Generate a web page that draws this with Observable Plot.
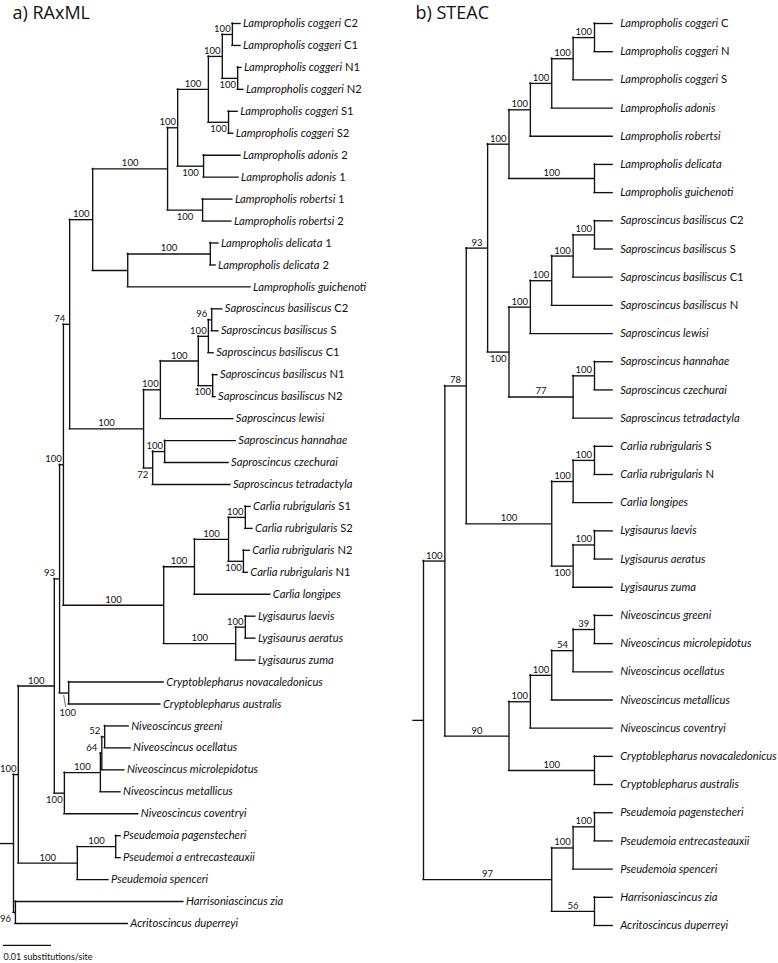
<!DOCTYPE html>
<html>
<head>
<meta charset="utf-8">
<script src="https://cdn.jsdelivr.net/npm/d3@7"></script>
<script src="https://cdn.jsdelivr.net/npm/@observablehq/plot@0.6"></script>
<style>
  html, body { margin: 0; padding: 0; background: #ffffff; }
  #wrap { display: flex; width: 778px; height: 963px; overflow: hidden; }
  #wrap svg { display: block; background: #ffffff; }
</style>
</head>
<body>
<div id="wrap"></div>
<script>
// ---------------- a) RAxML tree (depths in substitutions/site from the root) ----------------
const raxmlTitle = "a) RAxML";
const raxmlScaleLabel = "0.01 substitutions/site";
const raxmlScaleLength = 0.01;
const raxmlRootBranch = 0.0027;

// internal nodes: [id, parent, depth, bootstrap support, label side]
const raxmlNodes = [
  ["root", null, 0, null, ""],
  ["nA", "root", 0.0010, 100, "above"],
  ["nB", "nA", 0.0085, 100, "above"],
  ["n93", "nB", 0.0096, 93, "above"],
  ["nC", "n93", 0.0104, 100, "above"],
  ["n74", "nC", 0.0117, 74, "above"],
  ["nLam", "n74", 0.0165, 100, "above"],
  ["nLam1", "nLam", 0.0321, 100, "above"],
  ["nLam2", "nLam1", 0.0342, 100, "above"],
  ["nLam3", "nLam2", 0.0406, 100, "above"],
  ["nCN", "nLam3", 0.0435, 100, "above"],
  ["nC12", "nCN", 0.0456, 100, "above"],
  ["nN12", "nCN", 0.0467, 100, "below"],
  ["nS12", "nLam3", 0.0448, 100, "below"],
  ["nAdo", "nLam2", 0.0396, 100, "below"],
  ["nRob", "nLam1", 0.0394, 100, "below"],
  ["nDG", "nLam", 0.0238, null, ""],
  ["nDel", "nDG", 0.0410, 100, "above"],
  ["nSap", "n74", 0.0271, 100, "above"],
  ["nSap1", "nSap", 0.0306, 100, "above"],
  ["nBas", "nSap1", 0.0385, 100, "above"],
  ["nBas1", "nBas", 0.0406, 100, "above"],
  ["nBas2", "nBas1", 0.0413, 96, "above"],
  ["nBasN", "nBas", 0.0415, 100, "below"],
  ["n72", "nSap", 0.0290, 72, "below"],
  ["nHC", "n72", 0.0315, 100, "above"],
  ["nCL", "nC", 0.0313, 100, "above"],
  ["nCar", "nCL", 0.0377, 100, "above"],
  ["nCar2", "nCar", 0.0448, 100, "above"],
  ["nCarS", "nCar2", 0.0483, 100, "above"],
  ["nCarN", "nCar2", 0.0479, 100, "below"],
  ["nLyg", "nCL", 0.0463, 100, "above"],
  ["nLyg2", "nLyg", 0.0483, 100, "above"],
  ["nCry", "n93", 0.0115, 100, "leader"],
  ["nNiv", "nB", 0.0106, 100, "below"],
  ["nNiv2", "nNiv", 0.0181, 100, "above"],
  ["nNiv3", "nNiv2", 0.0184, 64, "above"],
  ["nNiv4", "nNiv3", 0.0190, 52, "above"],
  ["nPs", "nA", 0.0133, 100, "above"],
  ["nPs2", "nPs", 0.0213, 100, "above"],
  ["n96", "root", 0.0004, 96, "below"]
];

// tips, top to bottom: [species, sample tag, parent, depth]
const raxmlTips = [
  ["Lampropholis coggeri", "C2", "nC12", 0.0473],
  ["Lampropholis coggeri", "C1", "nC12", 0.0473],
  ["Lampropholis coggeri", "N1", "nN12", 0.0475],
  ["Lampropholis coggeri", "N2", "nN12", 0.0479],
  ["Lampropholis coggeri", "S1", "nS12", 0.0467],
  ["Lampropholis coggeri", "S2", "nS12", 0.0458],
  ["Lampropholis adonis", "2", "nAdo", 0.0473],
  ["Lampropholis adonis", "1", "nAdo", 0.0469],
  ["Lampropholis robertsi", "1", "nRob", 0.0456],
  ["Lampropholis robertsi", "2", "nRob", 0.0454],
  ["Lampropholis delicata", "1", "nDel", 0.0427],
  ["Lampropholis delicata", "2", "nDel", 0.0421],
  ["Lampropholis guichenoti", "", "nDG", 0.0494],
  ["Saproscincus basiliscus", "C2", "nBas2", 0.0435],
  ["Saproscincus basiliscus", "S", "nBas2", 0.0427],
  ["Saproscincus basiliscus", "C1", "nBas1", 0.0417],
  ["Saproscincus basiliscus", "N1", "nBasN", 0.0425],
  ["Saproscincus basiliscus", "N2", "nBasN", 0.0421],
  ["Saproscincus lewisi", "", "nSap1", 0.0458],
  ["Saproscincus hannahae", "", "nHC", 0.0463],
  ["Saproscincus czechurai", "", "nHC", 0.0448],
  ["Saproscincus tetradactyla", "", "n72", 0.0452],
  ["Carlia rubrigularis", "S1", "nCarS", 0.0494],
  ["Carlia rubrigularis", "S2", "nCarS", 0.0498],
  ["Carlia rubrigularis", "N2", "nCarN", 0.0492],
  ["Carlia rubrigularis", "N1", "nCarN", 0.0488],
  ["Carlia longipes", "", "nCar", 0.0535],
  ["Lygisaurus laevis", "", "nLyg2", 0.0504],
  ["Lygisaurus aeratus", "", "nLyg2", 0.0504],
  ["Lygisaurus zuma", "", "nLyg", 0.0504],
  ["Cryptoblepharus novacaledonicus", "", "nCry", 0.0313],
  ["Cryptoblepharus australis", "", "nCry", 0.0306],
  ["Niveoscincus greeni", "", "nNiv4", 0.0240],
  ["Niveoscincus ocellatus", "", "nNiv4", 0.0244],
  ["Niveoscincus microlepidotus", "", "nNiv3", 0.0231],
  ["Niveoscincus metallicus", "", "nNiv2", 0.0223],
  ["Niveoscincus coventryi", "", "nNiv", 0.0260],
  ["Pseudemoia pagenstecheri", "", "nPs2", 0.0223],
  ["Pseudemoi a entrecasteauxii", "", "nPs2", 0.0223],
  ["Pseudemoia spenceri", "", "nPs", 0.0198],
  ["Harrisoniascincus zia", "", "n96", 0.0354],
  ["Acritoscincus duperreyi", "", "n96", 0.0238]
];

// ---------------- b) STEAC species tree (node depth in levels from the root) ----------------
const steacTitle = "b) STEAC";
const steacRootBranch = 0.47;
const steacTipDepth = 8.85;

const steacNodes = [
  ["R", null, 0, null, ""],
  ["A", "R", 1, 100, "above"],
  ["N78", "A", 2, 78, "above"],
  ["N93", "N78", 3, 93, "above"],
  ["Lam", "N93", 4, 100, "above"],
  ["Lam1", "Lam", 5, 100, "above"],
  ["Lam2", "Lam1", 6, 100, "above"],
  ["Lam3", "Lam2", 7, 100, "above"],
  ["Lam4", "Lam3", 8, 100, "above"],
  ["DG", "Lam", 8, 100, "above"],
  ["Sap", "N93", 4, 100, "below"],
  ["Sap1", "Sap", 5, 100, "above"],
  ["Sap2", "Sap1", 6, 100, "above"],
  ["Sap3", "Sap2", 7, 100, "above"],
  ["Sap4", "Sap3", 8, 100, "above"],
  ["N77", "Sap", 7, 77, "above"],
  ["HC", "N77", 8, 100, "above"],
  ["CL", "N78", 6, 100, "above"],
  ["Car", "CL", 7, 100, "above"],
  ["Car2", "Car", 8, 100, "above"],
  ["Lyg", "CL", 7, 100, "below"],
  ["Lyg2", "Lyg", 8, 100, "above"],
  ["N90", "A", 4, 90, "above"],
  ["Niv", "N90", 5, 100, "above"],
  ["Niv2", "Niv", 6, 100, "above"],
  ["N54", "Niv2", 7, 54, "above"],
  ["N39", "N54", 8, 39, "above"],
  ["Cry", "N90", 8, 100, "above"],
  ["N97", "R", 6, 97, "above"],
  ["Ps", "N97", 7, 100, "above"],
  ["Ps2", "Ps", 8, 100, "above"],
  ["HA", "N97", 8, 56, "above"]
];

const steacTips = [
  ["Lampropholis coggeri", "C", "Lam4"],
  ["Lampropholis coggeri", "N", "Lam4"],
  ["Lampropholis coggeri", "S", "Lam3"],
  ["Lampropholis adonis", "", "Lam2"],
  ["Lampropholis robertsi", "", "Lam1"],
  ["Lampropholis delicata", "", "DG"],
  ["Lampropholis guichenoti", "", "DG"],
  ["Saproscincus basiliscus", "C2", "Sap4"],
  ["Saproscincus basiliscus", "S", "Sap4"],
  ["Saproscincus basiliscus", "C1", "Sap3"],
  ["Saproscincus basiliscus", "N", "Sap2"],
  ["Saproscincus lewisi", "", "Sap1"],
  ["Saproscincus hannahae", "", "HC"],
  ["Saproscincus czechurai", "", "HC"],
  ["Saproscincus tetradactyla", "", "N77"],
  ["Carlia rubrigularis", "S", "Car2"],
  ["Carlia rubrigularis", "N", "Car2"],
  ["Carlia longipes", "", "Car"],
  ["Lygisaurus laevis", "", "Lyg2"],
  ["Lygisaurus aeratus", "", "Lyg2"],
  ["Lygisaurus zuma", "", "Lyg"],
  ["Niveoscincus greeni", "", "N39"],
  ["Niveoscincus microlepidotus", "", "N39"],
  ["Niveoscincus ocellatus", "", "N54"],
  ["Niveoscincus metallicus", "", "Niv2"],
  ["Niveoscincus coventryi", "", "Niv"],
  ["Cryptoblepharus novacaledonicus", "", "Cry"],
  ["Cryptoblepharus australis", "", "Cry"],
  ["Pseudemoia pagenstecheri", "", "Ps2"],
  ["Pseudemoia entrecasteauxii", "", "Ps2"],
  ["Pseudemoia spenceri", "", "Ps"],
  ["Harrisoniascincus zia", "", "HA"],
  ["Acritoscincus duperreyi", "", "HA"]
];

// ---------------- layout + drawing ----------------
const PANEL_W = 389, H = 963;
const TIP_FONT = "Lato, 'Liberation Sans', sans-serif";
const NUM_FONT = "Lato, 'Liberation Sans', sans-serif";
const TITLE_FONT = "'Open Sans', 'Liberation Sans', sans-serif";
const INK = "#111";

function buildTree(nodeRows, tipRows, tipDepthDefault, kx) {
  const byId = new Map();
  const nodes = nodeRows.map(([id, parent, depth, support, side]) => {
    const n = {id, parent, x: depth, support, side, kids: []};
    byId.set(id, n);
    return n;
  });
  const tips = tipRows.map(([species, tag, parent, depth], i) => ({
    species, tag, parent, x: depth ?? tipDepthDefault, y: i,
    label: tag ? species + " " + tag : species, kids: null
  }));
  nodes.forEach(n => { if (n.parent) byId.get(n.parent).kids.push(n); });
  tips.forEach(t => byId.get(t.parent).kids.push(t));
  const place = n => {
    if (!n.kids) return n.y;
    const ys = n.kids.map(place);
    n.y0 = Math.min(...ys); n.y1 = Math.max(...ys);
    n.y = (n.y0 + n.y1) / 2;
    return n.y;
  };
  const root = nodes.find(n => !n.parent);
  place(root);
  const edges = [...nodes, ...tips].filter(n => n.parent)
    .map(n => ({y: n.y, x1: byId.get(n.parent).x, x2: n.x}));
  const gap = 10 / kx;
  const labels = nodes.filter(n => n.support != null).map(n => {
    const px = byId.get(n.parent).x;
    const lx = n.side === "leader" ? n.x - 1 / kx : Math.min((px + n.x) / 2, n.x - gap);
    return {x: n.x, y: n.y, lx, side: n.side, text: String(n.support)};
  });
  return {root, nodes, tips, edges, labels};
}

// species names italic, sample tags upright
function styleTips(svg, tips) {
  const info = new Map(tips.map(t => [t.label, t]));
  svg.querySelectorAll("text").forEach(el => {
    const t = info.get(el.textContent);
    if (!t) return;
    const sel = d3.select(el);
    sel.text(null);
    sel.append("tspan").attr("font-style", "italic").text(t.species);
    if (t.tag) sel.append("tspan").attr("font-style", "normal").text(" " + t.tag);
  });
}

function drawTree(T, o) {
  const ky = (o.yRange[1] - o.yRange[0]) / (T.tips.length - 1);
  const lineStyle = {stroke: INK, strokeWidth: 1.35, strokeLinecap: "square"};
  const marks = [
    Plot.ruleY(T.edges, {y: "y", x1: "x1", x2: "x2", ...lineStyle}),
    Plot.ruleX(T.nodes, {x: "x", y1: "y0", y2: "y1", ...lineStyle}),
    Plot.ruleY([T.root], {y: "y", x1: d => d.x - o.rootBranch, x2: "x", ...lineStyle}),
    Plot.text(T.labels.filter(d => d.side === "above"), {
      x: "lx", y: "y", text: "text", lineAnchor: "bottom", dy: -2.5,
      fontSize: 9.5, fontFamily: NUM_FONT, fill: INK
    }),
    Plot.text(T.labels.filter(d => d.side === "below"), {
      x: "lx", y: "y", text: "text", lineAnchor: "top", dy: 3,
      fontSize: 9.5, fontFamily: NUM_FONT, fill: INK
    }),
    Plot.text(T.labels.filter(d => d.side === "leader"), {
      x: "lx", y: "y", text: "text", lineAnchor: "top", dy: 16,
      fontSize: 9.5, fontFamily: NUM_FONT, fill: INK
    }),
    Plot.link(T.labels.filter(d => d.side === "leader"), {
      x1: d => d.lx - 4 / o.kx, x2: d => d.lx - 2 / o.kx,
      y1: d => d.y + 2 / ky, y2: d => d.y + 14 / ky,
      stroke: "#444", strokeWidth: 0.8
    }),
    Plot.text(T.tips, {
      x: "x", y: "y", text: "label", textAnchor: "start", dx: o.tipDx,
      fontSize: 11.2, fontFamily: TIP_FONT, fill: INK
    }),
    Plot.text([o.title], {
      frameAnchor: "top-left", dx: o.titleDx, dy: 6, lineAnchor: "top",
      fontSize: 18, fontFamily: TITLE_FONT, fill: INK
    })
  ];
  if (o.scaleLength) {
    const x0 = o.xDomain[0];
    const row = T.tips.length;
    marks.push(
      Plot.ruleY([row], {y: d => d, x1: () => x0, x2: () => x0 + o.scaleLength, dx: 3, stroke: INK, strokeWidth: 1.2}),
      Plot.text([o.scaleLabel], {
        x: () => x0, y: () => row, text: d => d, textAnchor: "start", lineAnchor: "top",
        dx: 3, dy: 8, fontSize: 9, fontFamily: NUM_FONT, fill: INK
      })
    );
  }
  const svg = Plot.plot({
    width: PANEL_W, height: H, margin: 0,
    x: {domain: o.xDomain, range: [0, PANEL_W], axis: null},
    y: {domain: [0, T.tips.length - 1], range: o.yRange, axis: null},
    style: {background: "#fff", color: INK},
    marks
  });
  styleTips(svg, T.tips);
  return svg;
}

// pixel-per-unit of each x scale (the 0.01 bar spans 48px; STEAC levels ~21px apart)
const raxmlKx = 4800;
const raxmlDomain = [-13 / raxmlKx, (PANEL_W - 13) / raxmlKx];
const steacKx = 21.375;
const steacDomain = [-34 / steacKx, (PANEL_W - 34) / steacKx];

const raxml = buildTree(raxmlNodes, raxmlTips, null, raxmlKx);
const steac = buildTree(steacNodes, steacTips, steacTipDepth, steacKx);

const wrap = document.getElementById("wrap");
wrap.appendChild(drawTree(raxml, {
  xDomain: raxmlDomain, kx: raxmlKx, yRange: [23, 923], rootBranch: raxmlRootBranch,
  tipDx: 2.5, title: raxmlTitle, titleDx: 12,
  scaleLength: raxmlScaleLength, scaleLabel: raxmlScaleLabel
}));
wrap.appendChild(drawTree(steac, {
  xDomain: steacDomain, kx: steacKx, yRange: [23, 925], rootBranch: steacRootBranch,
  tipDx: 7.5, title: steacTitle, titleDx: 26
}));
</script>
</body>
</html>
